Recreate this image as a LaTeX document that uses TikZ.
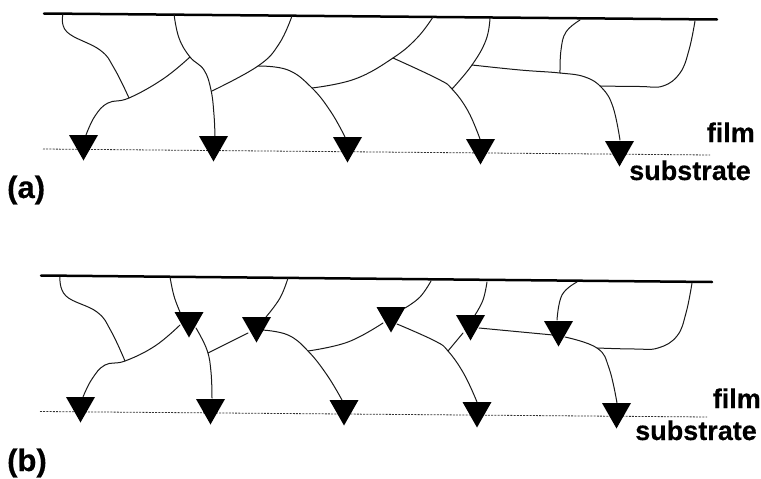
\documentclass[tikz,border=0pt]{standalone}
\usepackage{fontspec}
\setmainfont{Liberation Sans}
\tikzset{
  line/.style={line width=1pt,black!90,line cap=round,line join=round},
  surface/.style={line width=2.5pt,black,line cap=round},
  interface/.style={line width=0.8pt,black!80,dash pattern=on 2pt off 1.2pt},
  lab/.style={font=\fontsize{27}{29}\selectfont\bfseries\addfontfeature{FakeBold=0.4},inner sep=0pt,anchor=base east},
  tag/.style={font=\fontsize{31}{33}\selectfont\bfseries\addfontfeature{FakeBold=0.4},inner sep=0pt,anchor=base west},
}
\newcommand{\tri}[2]{\fill[black] (#1-14.5,#2) -- (#1+14.5,#2) -- (#1,#2+25.5) -- cycle;}
\newcommand{\crv}[1]{\draw[line] plot[smooth,tension=0.7] coordinates {#1};}
\begin{document}
\begin{tikzpicture}[x=1pt,y=-1pt]
\useasboundingbox (0,0) rectangle (761,479);
\fill[white] (0,0) rectangle (761,479);
% panel a
\draw[surface] (44,13.5) -- (717,19.5);
\draw[interface] (43,149) -- (710,155);
\crv{(63,14) (67,32) (100,50) (114,68) (129,98)}
\crv{(190,57) (163,79) (129,98) (108,103) (95,116) (86,135)}
\crv{(174,14) (179,38) (190,57) (204,70) (211,90) (214,115) (215,137)}
\crv{(292,16) (279,44) (258,66) (212,91)}
\crv{(258,66) (288,70) (312,88) (331,112) (345,137)}
\crv{(433,17) (417,38) (393,58) (355,79) (312,88)}
\crv{(393,58) (438,79) (452,89) (468,111) (480,139)}
\crv{(490,18) (486,40) (472,65) (452,89)}
\crv{(472,65) (520,70) (560,73) (585,77) (602,88) (613,107) (620,140)}
\crv{(580,20) (566,32) (561,50) (560,73)}
\crv{(695,21) (689,50) (680,73) (663,86) (640,86.5) (600,86)}
\tri{83.5}{135}\tri{213.5}{136}\tri{347.5}{137}\tri{480.5}{139}\tri{619.5}{141}
\node[lab] (filmA) at (755,142) {film};
\node[lab] (subA) at (751,180) {substrate};
\node[tag] (tagA) at (7,198) {(a)};
% panel b
\draw[surface] (41,275.5) -- (712,282);
\draw[interface] (40,411.5) -- (707,417);
\crv{(60,277) (66,296) (97,312) (111,331) (125,361)}
\crv{(180,325) (155,346) (125,361) (105,365) (92,379) (83,397)}
\crv{(170,277) (174,296) (180,312)}
\crv{(196,328) (207,350) (211,372) (212,398)}
\crv{(288,278) (280,298) (266,317)}
\crv{(248,333) (208,353)}
\crv{(262,330) (288,335) (308,351) (327,375) (342,400)}
\crv{(383,323) (348,342) (308,351)}
\crv{(431,281) (420,297) (405,308)}
\crv{(397,324) (435,341) (448,351) (464,374) (477,402)}
\crv{(487,282) (483,300) (475,315)}
\crv{(463,333) (448,351)}
\crv{(479,328) (553,335)}
\crv{(565,337) (597,348) (609,368) (617,403)}
\crv{(577,282) (562,295) (557,320)}
\crv{(692,283) (686,313) (677,336) (658,348) (635,349) (597,348)}
\tri{80.5}{397}\tri{210.5}{399}\tri{344}{400}\tri{477}{402}\tri{616.5}{403}
\tri{189}{312}\tri{256.5}{317}\tri{391}{307}\tri{470.5}{315}\tri{558.5}{321}
\node[lab] (filmB) at (761,408) {film};
\node[lab] (subB) at (757,440) {substrate};
\node[tag] (tagB) at (7,471) {(b)};
\end{tikzpicture}
\end{document}
